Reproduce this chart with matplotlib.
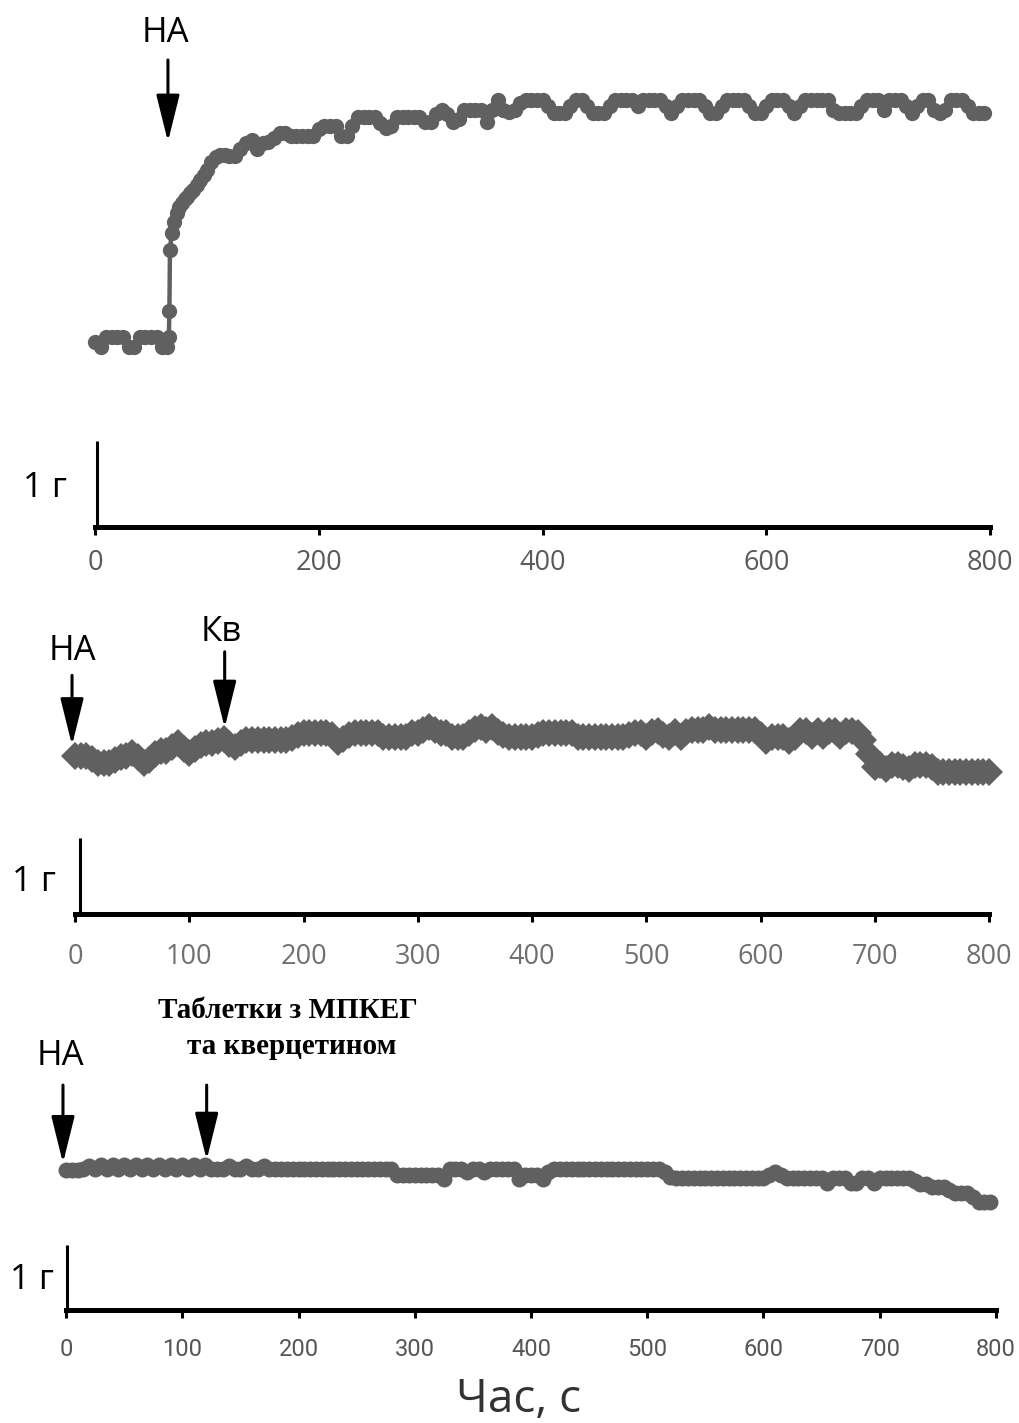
import numpy as np
import matplotlib
matplotlib.use("Agg")
import matplotlib.pyplot as plt

W, H = 1019, 1423
GRAY = "#606060"

# ---------------- data (time, s ; force, g) ----------------
# Panel 1: noradrenaline only
t1_rise = [0, 5, 10, 15, 20, 25, 30, 35, 40, 45, 50, 55, 60, 64, 66, 66.5, 67, 68.5, 71, 73, 75,
           77.5, 80, 82, 85, 88, 91, 94, 97, 100, 104, 108, 112, 116, 120, 125]
y1_rise = [2.15, 2.09, 2.21, 2.21, 2.21, 2.21, 2.09, 2.09, 2.21, 2.21, 2.21, 2.21, 2.09, 2.09, 2.21,
           2.51, 3.22, 3.42, 3.55, 3.65, 3.72, 3.77, 3.81, 3.84, 3.88, 3.92, 3.98, 4.03, 4.09, 4.15,
           4.24, 4.30, 4.33, 4.33, 4.31, 4.31]
y1_plateau = [4.40, 4.47, 4.50, 4.40, 4.47, 4.48, 4.52, 4.58, 4.58, 4.55, 4.55, 4.55, 4.55, 4.55,
              4.63, 4.66, 4.66, 4.66, 4.55, 4.55, 4.66, 4.77, 4.77, 4.77, 4.77, 4.70, 4.64, 4.66,
              4.77, 4.77, 4.77, 4.77, 4.77, 4.71, 4.71, 4.80, 4.85, 4.80, 4.71, 4.75, 4.85, 4.85,
              4.85, 4.85, 4.71, 4.85, 4.97, 4.85, 4.83, 4.85, 4.93, 4.97, 4.97, 4.97, 4.97, 4.90,
              4.81, 4.81, 4.81, 4.90, 4.97, 4.97, 4.90, 4.81, 4.81, 4.81, 4.90, 4.97, 4.97, 4.97,
              4.97, 4.90, 4.97, 4.97, 4.97, 4.97, 4.90, 4.81, 4.90, 4.97, 4.97, 4.97, 4.97, 4.90,
              4.81, 4.81, 4.90, 4.97, 4.97, 4.97, 4.97, 4.90, 4.81, 4.81, 4.90, 4.97, 4.97, 4.97,
              4.90, 4.81, 4.90, 4.97, 4.97, 4.97, 4.97, 4.97, 4.85, 4.81, 4.81, 4.81, 4.81, 4.90,
              4.97, 4.97, 4.97, 4.85, 4.97, 4.97, 4.97, 4.90, 4.81, 4.90, 4.97, 4.97, 4.85, 4.81,
              4.85, 4.97, 4.97, 4.97, 4.90, 4.81, 4.81, 4.81]
t1_plateau_start, dt = 130, 5

# Panel 2: noradrenaline + quercetin (Кв)
y2 = [2.08, 2.08, 2.08, 2.04, 1.99, 1.99, 1.99, 2.02, 2.06, 2.08, 2.12, 2.06, 1.99, 2.02, 2.10,
      2.14, 2.14, 2.20, 2.25, 2.17, 2.12, 2.17, 2.22, 2.25, 2.25, 2.27, 2.30, 2.24, 2.20, 2.25,
      2.29, 2.29, 2.29, 2.29, 2.29, 2.29, 2.29, 2.29, 2.31, 2.35, 2.38, 2.38, 2.38, 2.38, 2.38,
      2.35, 2.26, 2.30, 2.35, 2.38, 2.38, 2.38, 2.38, 2.38, 2.33, 2.33, 2.33, 2.33, 2.33, 2.38,
      2.38, 2.42, 2.46, 2.42, 2.38, 2.38, 2.33, 2.33, 2.33, 2.38, 2.43, 2.46, 2.42, 2.46, 2.40,
      2.35, 2.33, 2.33, 2.33, 2.33, 2.33, 2.36, 2.38, 2.38, 2.38, 2.38, 2.38, 2.38, 2.33, 2.33,
      2.33, 2.33, 2.33, 2.33, 2.33, 2.33, 2.33, 2.36, 2.38, 2.38, 2.33, 2.40, 2.41, 2.36, 2.33,
      2.40, 2.33, 2.40, 2.42, 2.42, 2.42, 2.46, 2.42, 2.42, 2.42, 2.42, 2.42, 2.42, 2.42, 2.42,
      2.36, 2.28, 2.33, 2.33, 2.33, 2.28, 2.33, 2.41, 2.41, 2.34, 2.41, 2.34, 2.41, 2.41, 2.34,
      2.41, 2.41, 2.38, 2.29, 2.10, 1.93, 1.96, 1.91, 1.96, 1.96, 1.93, 1.91, 1.96, 1.96, 1.96,
      1.93, 1.87, 1.87, 1.87, 1.87, 1.87, 1.87, 1.87, 1.87, 1.87, 1.87]

# Panel 3: noradrenaline + tablets with МПКЕГ and quercetin
y3 = [2.15, 2.15, 2.15, 2.17, 2.22, 2.17, 2.23, 2.17, 2.23, 2.17, 2.23, 2.17, 2.23, 2.17, 2.23,
      2.17, 2.23, 2.17, 2.23, 2.17, 2.23, 2.17, 2.23, 2.17, 2.23, 2.17, 2.17, 2.17, 2.22, 2.17,
      2.17, 2.22, 2.17, 2.17, 2.22, 2.17,
      2.17, 2.17, 2.17, 2.17, 2.17, 2.17, 2.17, 2.17, 2.17, 2.17, 2.17, 2.17, 2.17, 2.17, 2.17,
      2.17, 2.17, 2.17, 2.17, 2.17, 2.17,
      2.08, 2.08, 2.08, 2.08, 2.08, 2.08, 2.08, 2.08, 2.02, 2.17, 2.17, 2.17, 2.12, 2.17, 2.17,
      2.12, 2.17, 2.17, 2.17, 2.17, 2.17, 2.02, 2.08, 2.08, 2.08, 2.02, 2.12,
      2.17, 2.17, 2.17, 2.17, 2.17, 2.17, 2.17, 2.17, 2.17, 2.17, 2.17, 2.17, 2.17, 2.17, 2.17,
      2.17, 2.17, 2.17, 2.17, 2.12, 2.05,
      2.03, 2.03, 2.03, 2.03, 2.03, 2.03, 2.03, 2.03, 2.03, 2.03, 2.03, 2.03, 2.03, 2.03, 2.03,
      2.03, 2.08, 2.13, 2.08, 2.03, 2.03, 2.03, 2.03, 2.03, 2.03, 2.03, 1.95, 2.03, 2.03, 2.03,
      1.95, 1.95, 2.03, 2.03, 1.95, 2.03, 2.03, 2.03, 2.03, 2.03, 2.03, 1.99, 1.94, 1.94, 1.89,
      1.89, 1.89, 1.84, 1.80, 1.80, 1.80, 1.74, 1.66, 1.66, 1.66]

ticks_top = [0, 200, 400, 600, 800]
ticks_mid = [0, 100, 200, 300, 400, 500, 600, 700, 800]
xlabel = "Час, с"
scale_label = "1 г"

# ---------------- layout helpers ----------------
fig = plt.figure(figsize=(W / 100, H / 100), dpi=100)
fig.patch.set_facecolor("white")


def make_axes(x0, x800, y_axis, y_top, px_per_g):
    ax = fig.add_axes([x0 / W, 1 - y_axis / H, (x800 - x0) / W, (y_axis - y_top) / H])
    ax.set_xlim(0, 800)
    ax.set_ylim(0, (y_axis - y_top) / px_per_g)
    for s in ("top", "right", "left"):
        ax.spines[s].set_visible(False)
    ax.spines["bottom"].set_linewidth(3.6)
    ax.spines["bottom"].set_capstyle("projecting")
    ax.set_yticks([])
    ax.patch.set_alpha(0)
    ax.tick_params(axis="x", direction="out", length=6, width=2.2, color="black")
    return ax


def arrow(ax, t, g_tip, g_tail):
    ax.annotate("", xy=(t, g_tip), xytext=(t, g_tail), annotation_clip=False,
                arrowprops=dict(arrowstyle="-|>,head_length=1.45,head_width=0.36",
                                mutation_scale=20, lw=2.2, color="black",
                                shrinkA=0, shrinkB=0))


def ftext(x, y, s, **kw):
    fig.text(x / W, 1 - y / H, s, ha="center", va="center", **kw)


sans = ["Open Sans", "DejaVu Sans"]

# ---------------- panel 1 ----------------
ax1 = make_axes(95, 990, 527, 0, 86)
t1 = list(t1_rise) + list(t1_plateau_start + dt * np.arange(len(y1_plateau)))
y1 = list(y1_rise) + list(y1_plateau)
ax1.plot(t1, y1, "-o", color=GRAY, ms=11, lw=3.2, mew=0, clip_on=False, zorder=3)
ax1.set_xticks(ticks_top)
ax1.set_xticklabels([str(v) for v in ticks_top], fontsize=19.5, color="#5a5a5a", family=sans)
ax1.tick_params(axis="x", pad=10)
ax1.plot([2, 2], [0, 1], color="black", lw=2.2, clip_on=False, solid_capstyle="butt")
arrow(ax1, 65.2, 4.48, 5.43)
ftext(165, 33, "НА", fontsize=25, family=sans, color="black")
ftext(45, 488, scale_label, fontsize=25, family=sans, color="black")

# ---------------- panel 2 ----------------
ax2 = make_axes(75, 989, 914, 600, 76)
t2 = dt * np.arange(len(y2))
ax2.plot(t2, y2, "-", color=GRAY, lw=6, clip_on=False, zorder=2)
ax2.plot(t2, y2, "D", color=GRAY, ms=14.5, mew=0, clip_on=False, zorder=3)
ax2.set_xticks(ticks_mid)
ax2.set_xticklabels([str(v) for v in ticks_mid], fontsize=19.5, color="#707070", family=sans)
ax2.tick_params(axis="x", pad=15)
ax2.plot([4.4, 4.4], [0, 1], color="black", lw=2.2, clip_on=False, solid_capstyle="butt")
arrow(ax2, -2.6, 2.22, 3.14)
arrow(ax2, 131, 2.45, 3.45)
ftext(72, 651, "НА", fontsize=25, family=sans, color="black")
ftext(221, 632, "Кв", fontsize=25, family=sans, color="black")
ftext(34, 882, scale_label, fontsize=25, family=sans, color="black")

# ---------------- panel 3 ----------------
ax3 = make_axes(66, 996, 1310, 980, 65)
t3 = dt * np.arange(len(y3))
ax3.plot(t3, y3, "-o", color=GRAY, ms=11.5, lw=4, mew=0, clip_on=False, zorder=3)
ax3.set_xticks(ticks_mid)
narrow = ["Liberation Sans Narrow", "Roboto", "DejaVu Sans"]
ax3.set_xticklabels([str(v) for v in ticks_mid], fontsize=17, color="#555555", family=narrow)
ax3.tick_params(axis="x", pad=14)
ax3.plot([0.9, 0.9], [0, 1], color="black", lw=2.2, clip_on=False, solid_capstyle="butt")
arrow(ax3, -2.6, 2.26, 3.46)
arrow(ax3, 121, 2.31, 3.46)
ftext(60, 1056, "НА", fontsize=25, family=sans, color="black")
serif = ["Liberation Serif", "DejaVu Serif"]
ftext(288, 1010, "Таблетки з МПКЕГ", fontsize=21, family=serif, weight="bold", color="black")
ftext(292, 1046, "та кверцетином", fontsize=21, family=serif, weight="bold", color="black")
ftext(32, 1280, scale_label, fontsize=25, family=sans, color="black")
ftext(519, 1400, xlabel, fontsize=33, family=sans, color="#333333")

fig.savefig("out.png", dpi=100, facecolor="white")
